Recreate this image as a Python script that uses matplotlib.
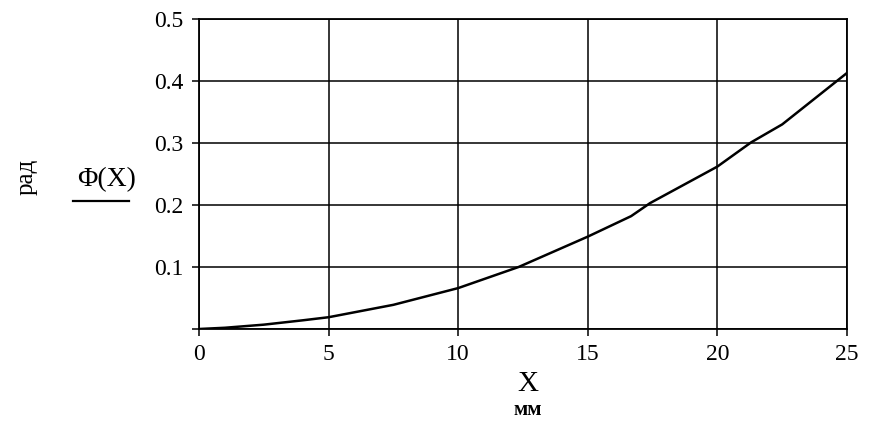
import matplotlib
matplotlib.use("Agg")
import matplotlib.pyplot as plt
from matplotlib.lines import Line2D

x_mm = [0, 1, 2.5, 4, 5, 7.5, 10, 12.33, 15, 16.67, 17.4, 20, 21.3, 22.5, 25]
phi_rad = [0, 0.002, 0.007, 0.014, 0.019, 0.039, 0.066, 0.100, 0.149, 0.182, 0.203, 0.262, 0.301, 0.330, 0.413]

x_ticks = [0, 5, 10, 15, 20, 25]
y_ticks = [0.1, 0.2, 0.3, 0.4, 0.5]

plt.rcParams['font.family'] = ['Liberation Serif', 'DejaVu Serif']

fig = plt.figure(figsize=(8.8, 4.36), dpi=100)
ax = fig.add_axes([199/880, 107/436, (847-199)/880, (329-19)/436])
ax.plot(x_mm, phi_rad, color='black', lw=1.8)
ax.set_xlim(0, 25)
ax.set_ylim(0, 0.5)
ax.set_xticks(x_ticks)
ax.set_yticks([0] + y_ticks)
ax.set_yticklabels([''] + [f'{v:.1f}' for v in y_ticks])
ax.grid(True, color='black', lw=1.1)
for s in ax.spines.values():
    s.set_color('black')
    s.set_linewidth(1.3)
ax.tick_params(direction='out', length=5, width=1.1, labelsize=17, colors='black', pad=6)

fig.text(27/880, 1 - 177/436, 'рад', rotation=90, ha='center', va='center', fontsize=18)
fig.text(107/880, 1 - 180/436, 'Φ(X)', ha='center', va='center', fontsize=20)
fig.add_artist(Line2D([73/880, 129/880], [1 - 201/436, 1 - 201/436], color='black', lw=1.6))
fig.text(528/880, 1 - 384/436, 'X', ha='center', va='center', fontsize=21)
fig.text(528/880, 1 - 410/436, 'мм', ha='center', va='center', fontsize=15, fontweight='bold')

fig.savefig('out.png', dpi=100, facecolor='white')
